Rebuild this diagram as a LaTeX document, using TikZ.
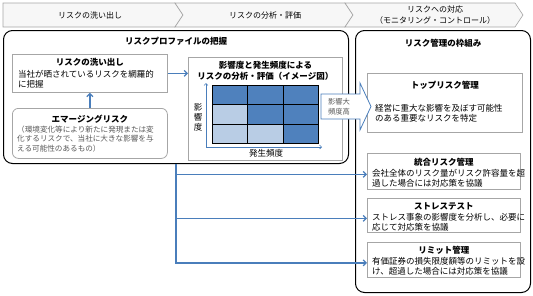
\documentclass[tikz,border=0pt]{standalone}
\usepackage{fontspec}
\setmainfont{Noto Sans CJK JP}
\usetikzlibrary{arrows.meta, positioning, calc}
\definecolor{flowblue}{HTML}{4A7EBB}
\definecolor{celldark}{HTML}{4F81BD}
\definecolor{celllight}{HTML}{B9CDE5}
\definecolor{boxgray}{HTML}{A6A6A6}
\definecolor{textgray}{HTML}{595959}
\definecolor{stagefill}{HTML}{F7F7F7}

\begin{document}
\begin{tikzpicture}[
    x=1pt, y=-1pt,
    every node/.style={inner sep=0pt},
    stage/.style={draw=boxgray, fill=stagefill, line width=0.6pt},
    stagetext/.style={font=\fontsize{8}{11}\selectfont, align=center},
    frame/.style={draw=black, line width=1pt, rounded corners=9pt, anchor=north west},
    subbox/.style={draw=boxgray, line width=0.8pt, fill=white, anchor=north west},
    title/.style={font=\fontsize{8.5}{11}\selectfont\bfseries, align=center},
    body/.style={font=\fontsize{8.5}{10}\selectfont, align=left, anchor=west},
    note/.style={font=\fontsize{7.6}{9.5}\selectfont, align=left, anchor=west, text=textgray},
    flow/.style={draw=flowblue, line width=1.2pt, -{Straight Barb[length=3pt,width=6pt]}},
    axis/.style={draw=flowblue, line width=0.6pt, -{Straight Barb[length=2pt,width=4pt]}},
    cell/.style={draw=black, line width=0.8pt, minimum width=35.33pt, minimum height=19.33pt, anchor=north west},
]
\useasboundingbox (0,0) rectangle (533,295);

% === process stages ===
\draw[stage] (3,3) -- (175,3) -- (183,15) -- (175,27) -- (3,27) -- cycle;
\draw[stage] (175,3) -- (345,3) -- (353,15) -- (345,27) -- (175,27) -- (183,15) -- cycle;
\draw[stage] (345,3) -- (515,3) -- (523,15) -- (515,27) -- (345,27) -- (353,15) -- cycle;
\node[stagetext] (stage1) at (90,15) {リスクの洗い出し};
\node[stagetext] (stage2) at (265,15) {リスクの分析・評価};
\node[stagetext] (stage3) at (435,15) {リスクへの対応\\（モニタリング・コントロール）};

% === frames ===
\node[frame, minimum width=345pt, minimum height=133pt] (profile) at (3,30) {};
\node[title] at ([yshift=-11pt]profile.north) {リスクプロファイルの把握};
\node[frame, minimum width=175pt, minimum height=262pt] (framework) at (355,30) {};
\node[title] at ([yshift=-13pt]framework.north) {リスク管理の枠組み};

% === risk identification ===
\node[subbox, minimum width=155pt, minimum height=38pt] (washout) at (12,54) {};
\node[title] at ([yshift=-8pt]washout.north) {リスクの洗い出し};
\node[body] at ([xshift=6pt,yshift=-25pt]washout.north west) {当社が晒されているリスクを網羅的\\に把握};

\node[subbox, rounded corners=6pt, minimum width=155pt, minimum height=50pt] (emerging) at (12,108) {};
\node[title] at ([yshift=-11pt]emerging.north) {エマージングリスク};
\node[note] at ([xshift=5pt,yshift=-31pt]emerging.north west) {（環境変化等により新たに発現または変\\化するリスクで、当社に大きな影響を与\\える可能性のあるもの）};

% === analysis image ===
\node[subbox, minimum width=154pt, minimum height=103pt] (analysis) at (188,57) {};
\node[title] at ([yshift=-13.5pt]analysis.north) {影響度と発生頻度による\\リスクの分析・評価（イメージ図）};

\foreach \shade [count=\i from 0] in {celldark,celldark,celldark,celllight,celldark,celldark,celllight,celllight,celldark} {
    \pgfmathtruncatemacro\r{\i/3}
    \pgfmathtruncatemacro\c{mod(\i,3)}
    \node[cell, fill=\shade] (cell-\r-\c) at ({212+35.33*\c},{85+19.33*\r}) {};
}

\coordinate (origin) at (206,147);
\coordinate (ytip) at (206,83);
\coordinate (xtip) at (322,147);
\draw[axis] (origin) -- (ytip);
\draw[axis] (origin) -- (xtip);
\node[font=\fontsize{8.5}{10}\selectfont, align=center] (impact) at (198,117) {影\\響\\度};
\node[font=\fontsize{8.5}{10}\selectfont] (freq) at (266,153) {発生頻度};

% === management boxes ===
\node[subbox, minimum width=155pt, minimum height=59pt] (toprisk) at (367,73) {};
\node[title] at ([yshift=-12pt]toprisk.north) {トップリスク管理};
\node[body] at ([xshift=8pt,yshift=-40.5pt]toprisk.north west) {経営に重大な影響を及ぼす可能性\\のある重要なリスクを特定};

\node[subbox, minimum width=153pt, minimum height=36pt] (integrated) at (367,153) {};
\node[title] at ([yshift=-9.5pt]integrated.north) {統合リスク管理};
\node[body] at ([xshift=5pt,yshift=-25.5pt]integrated.north west) {会社全体のリスク量がリスク許容量を超\\過した場合には対応策を協議};

\node[subbox, minimum width=153pt, minimum height=34pt] (stress) at (367,198) {};
\node[title] at ([yshift=-8.5pt]stress.north) {ストレステスト};
\node[body] at ([xshift=5pt,yshift=-24pt]stress.north west) {ストレス事象の影響度を分析し、必要に\\応じて対応策を協議};

\node[subbox, minimum width=153pt, minimum height=35pt] (limit) at (367,242) {};
\node[title] at ([yshift=-8pt]limit.north) {リミット管理};
\node[body] at ([xshift=5pt,yshift=-24pt]limit.north west) {有価証券の損失限度額等のリミットを設\\け、超過した場合には対応策を協議};

% === connectors ===
\draw[flow] (emerging.north) -- (washout.south);
\draw[flow] (washout.east) -- (analysis.west |- washout.east);
\coordinate (trunk) at (profile.south);
\draw[flow] (trunk) |- ([yshift=-3pt]integrated.west);
\draw[flow] (trunk) |- ([yshift=-3pt]stress.west);
\draw[flow] (trunk) |- ([yshift=-3pt]limit.west);

% === high impact / high frequency callout ===
\draw[draw=flowblue, line width=0.8pt, fill=white]
    (321,94) -- (360,94) -- (360,83) -- (371,106.5) -- (360,130) -- (360,119) -- (321,119) -- cycle;
\node[font=\fontsize{7.3}{10}\selectfont, align=center, text=textgray] (callout) at (339,106.5) {影響大\\頻度高};

\end{tikzpicture}
\end{document}
